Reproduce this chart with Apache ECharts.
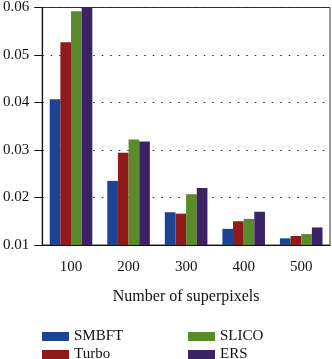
<!DOCTYPE html>
<html><head><meta charset="utf-8">
<script src="https://cdn.jsdelivr.net/npm/echarts@6/dist/echarts.min.js"></script>
<style>html,body{margin:0;padding:0;background:#fff}#c{width:332px;height:359px}</style>
</head><body><div id="c"></div>
<script>
const categories = ['100', '200', '300', '400', '500'];
const smbft = [0.0407, 0.0235, 0.0169, 0.0134, 0.0114];
const turbo = [0.0527, 0.0294, 0.0166, 0.0150, 0.0119];
const slico = [0.0592, 0.0322, 0.0207, 0.0155, 0.0123];
const ers   = [0.0600, 0.0318, 0.0220, 0.0170, 0.0137];
const seriesNames = ['SMBFT', 'Turbo', 'SLICO', 'ERS'];
const colors = ['#1d4394', '#8e1a1a', '#5b8a2a', '#3b2366'];
const font = 'Liberation Serif';
const chart = echarts.init(document.getElementById('c'));
const mk = (name, data, i) => ({
  name, type: 'bar', data, barGap: '0%', barCategoryGap: '26%',
  itemStyle: { color: colors[i] }, emphasis: { disabled: true }
});
const leg = (name, left, top) => ({
  data: [name], left, top, itemWidth: 27, itemHeight: 9, itemGap: 11,
  textStyle: { fontFamily: font, fontSize: 15, color: '#111' }, icon: 'rect', selectedMode: false
});
chart.setOption({
  animation: false,
  grid: { left: 42, right: 2, top: 4, bottom: 114, show: true, borderColor: '#333', borderWidth: 1, backgroundColor: 'transparent' },
  legend: [
    leg(seriesNames[0], 37, 324),
    leg(seriesNames[1], 37, 342),
    leg(seriesNames[2], 183, 324),
    leg(seriesNames[3], 183, 342)
  ],
  xAxis: {
    type: 'category', data: categories,
    name: 'Number of superpixels', nameLocation: 'middle', nameGap: 44,
    nameTextStyle: { fontFamily: font, fontSize: 16, color: '#111' },
    axisLine: { lineStyle: { color: '#111', width: 1.2 } },
    axisTick: { alignWithLabel: true, length: 5, lineStyle: { color: '#111' } },
    axisLabel: { fontFamily: font, fontSize: 15, color: '#111', margin: 15 }
  },
  yAxis: {
    type: 'value', min: 0.01, max: 0.06, interval: 0.01,
    axisLine: { show: true, lineStyle: { color: '#111', width: 1.2 } },
    axisTick: { show: true, length: 8, lineStyle: { color: '#111' } },
    axisLabel: { fontFamily: font, fontSize: 15, color: '#111', margin: 13, formatter: v => v.toFixed(2) },
    splitLine: { show: true, lineStyle: { color: '#222', type: [1.5, 7], width: 1 } }
  },
  series: [mk('SMBFT', smbft, 0), mk('Turbo', turbo, 1), mk('SLICO', slico, 2), mk('ERS', ers, 3)]
});
</script></body></html>
